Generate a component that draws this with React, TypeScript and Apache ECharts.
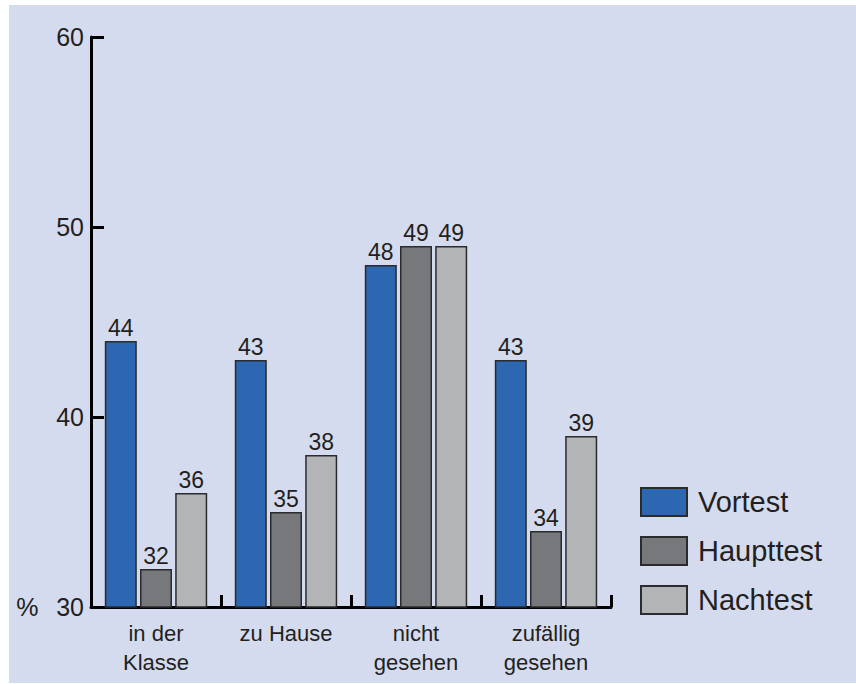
import React, { useEffect, useRef } from "react";
import * as echarts from "echarts";

const categories = ["in der\nKlasse", "zu Hause", "nicht\ngesehen", "zufällig\ngesehen"];
const seriesNames = ["Vortest", "Haupttest", "Nachtest"];
const vortest = [44, 43, 48, 43];
const haupttest = [32, 35, 49, 34];
const nachtest = [36, 38, 49, 39];
const yTicks = { min: 30, max: 60, interval: 10 };

const colors = ["#2e67b1", "#77787b", "#b3b4b6"];
const FONT = "'Liberation Sans', Arial, sans-serif";
const TEXT = "#231f20";

export default function App() {
  const ref = useRef<HTMLDivElement>(null);
  useEffect(() => {
    document.body.style.margin = "0";
    const chart = echarts.init(ref.current!, null, { renderer: "svg" });
    const values = [vortest, haupttest, nachtest];
    chart.setOption({
      animation: false,
      textStyle: { fontFamily: FONT, color: TEXT },
      graphic: [
        {
          type: "rect",
          z: -10,
          silent: true,
          shape: { x: 9, y: 5, width: 847, height: 678 },
          style: { fill: "#d5dbee" },
        },
      ],
      grid: { left: 91, right: 245, top: 37, bottom: 77, containLabel: false },
      legend: {
        orient: "vertical",
        left: 640,
        top: 487,
        padding: 0,
        itemWidth: 46,
        itemHeight: 28,
        itemGap: 19,
        icon: "rect",
        textStyle: {
          fontSize: 29,
          lineHeight: 28,
          color: TEXT,
          fontFamily: FONT,
          padding: [0, 0, 0, 6],
        },
        data: seriesNames,
      },
      xAxis: {
        type: "category",
        data: categories,
        axisLine: { lineStyle: { color: "#000", width: 3 } },
        axisTick: { show: true, inside: true, length: 12, lineStyle: { color: "#000", width: 3 } },
        axisLabel: { fontSize: 22, lineHeight: 29, color: TEXT, margin: 12, fontFamily: FONT },
      },
      yAxis: {
        type: "value",
        min: yTicks.min,
        max: yTicks.max,
        interval: yTicks.interval,
        splitLine: { show: false },
        axisLine: { show: true, lineStyle: { color: "#000", width: 3 } },
        axisTick: { show: true, inside: true, length: 13, lineStyle: { color: "#000", width: 3 } },
        axisLabel: {
          fontSize: 25,
          color: TEXT,
          margin: 7,
          fontFamily: FONT,
          formatter: (v: number) => (v === yTicks.min ? `{pct|%}{v|${v}}` : `{v|${v}}`),
          rich: {
            pct: { width: 40, align: "left", fontSize: 25, color: TEXT, fontFamily: FONT },
            v: { fontSize: 25, color: TEXT, fontFamily: FONT },
          },
        },
      },
      series: seriesNames.map((name, i) => ({
        name,
        type: "bar",
        data: values[i],
        barWidth: 32,
        barGap: "10%",
        itemStyle: { color: colors[i], borderColor: "#2b2b2b", borderWidth: 1.5 },
        label: {
          show: true,
          position: "top",
          distance: 2,
          fontSize: 23,
          color: TEXT,
          fontFamily: FONT,
        },
      })),
    });
    return () => chart.dispose();
  }, []);
  return (
    <div
      ref={ref}
      style={{ position: "absolute", left: 0, top: 0, width: 856, height: 684, background: "#fff" }}
    />
  );
}
